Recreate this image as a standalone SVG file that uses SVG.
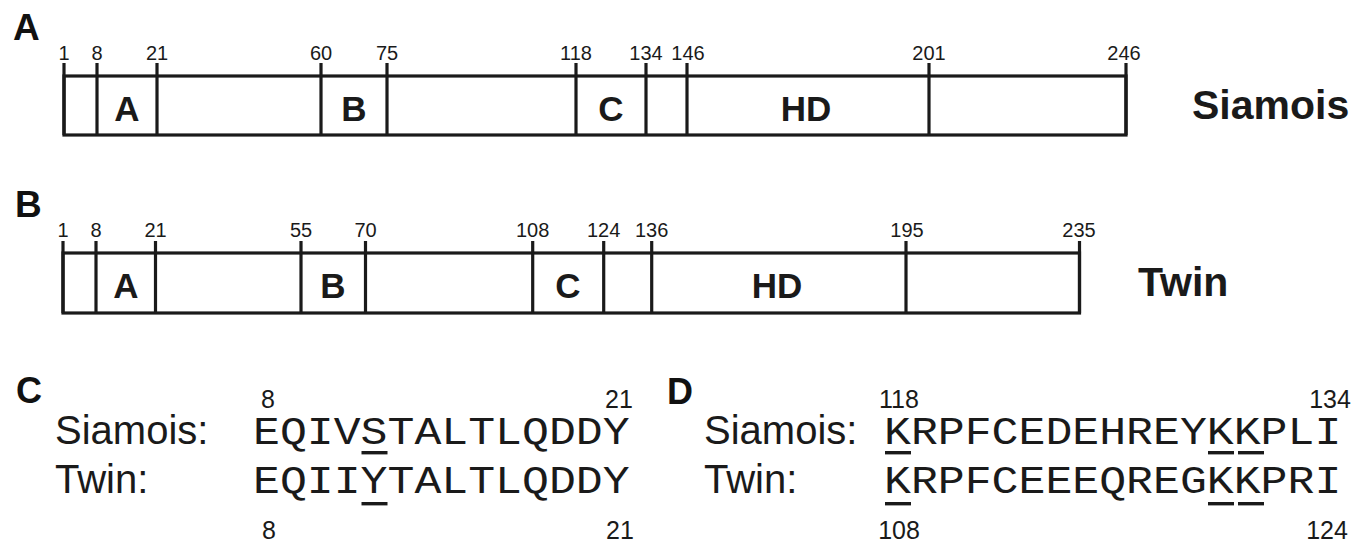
<svg xmlns="http://www.w3.org/2000/svg" width="1364" height="545" viewBox="0 0 1364 545">
<style>
.bg{fill:#ffffff}
.bar{fill:none;stroke:#1a1a1a;stroke-width:3.2}
.tick{stroke:#1a1a1a;stroke-width:3.2}
.num{font-family:"Liberation Sans",Arial,sans-serif;font-size:20px;fill:#1a1a1a;text-anchor:middle}
.dom{font-family:"Liberation Sans",Arial,sans-serif;font-size:35px;font-weight:bold;fill:#1a1a1a;text-anchor:middle}
.name{font-family:"Liberation Sans",Arial,sans-serif;font-size:41px;font-weight:bold;fill:#1a1a1a}
.panel{font-family:"Liberation Sans",Arial,sans-serif;font-size:37px;font-weight:bold;fill:#111}
.lab{font-family:"Liberation Sans",Arial,sans-serif;font-size:40px;fill:#1a1a1a}
.snum{font-family:"Liberation Sans",Arial,sans-serif;font-size:25px;fill:#1a1a1a;text-anchor:middle}
.seq{font-family:"Liberation Mono","Courier New",monospace;font-size:39px;fill:#1a1a1a}
.ul{fill:#1a1a1a}
</style>
<rect class="bg" x="0" y="0" width="1364" height="545"/>

<g id="panel-A">
  <text class="panel" x="13" y="40">A</text>
</g>
<g id="siamois-bar">
  <rect class="bar" x="64" y="76" width="1062" height="59"/>
  <line class="tick" x1="64" y1="63" x2="64" y2="135"/>
  <line class="tick" x1="97" y1="63" x2="97" y2="135"/>
  <line class="tick" x1="157" y1="63" x2="157" y2="135"/>
  <line class="tick" x1="321" y1="63" x2="321" y2="135"/>
  <line class="tick" x1="387" y1="63" x2="387" y2="135"/>
  <line class="tick" x1="576" y1="63" x2="576" y2="135"/>
  <line class="tick" x1="646" y1="63" x2="646" y2="135"/>
  <line class="tick" x1="687" y1="63" x2="687" y2="135"/>
  <line class="tick" x1="929" y1="63" x2="929" y2="135"/>
  <line class="tick" x1="1126" y1="63" x2="1126" y2="135"/>
  <text class="num" x="64" y="60">1</text>
  <text class="num" x="97" y="60">8</text>
  <text class="num" x="157" y="60">21</text>
  <text class="num" x="321" y="60">60</text>
  <text class="num" x="387" y="60">75</text>
  <text class="num" x="576" y="60">118</text>
  <text class="num" x="646" y="60">134</text>
  <text class="num" x="688" y="60">146</text>
  <text class="num" x="929" y="60">201</text>
  <text class="num" x="1124" y="60">246</text>
  <text class="dom" x="127" y="121">A</text>
  <text class="dom" x="354" y="121">B</text>
  <text class="dom" x="611" y="121">C</text>
  <text class="dom" x="806" y="121">HD</text>
  <text class="name" x="1192" y="119">Siamois</text>
</g>

<g id="panel-B">
  <text class="panel" x="15" y="217">B</text>
</g>
<g id="twin-bar">
  <rect class="bar" x="63" y="253" width="1016.5" height="60"/>
  <line class="tick" x1="63" y1="241" x2="63" y2="313"/>
  <line class="tick" x1="96" y1="241" x2="96" y2="313"/>
  <line class="tick" x1="155.5" y1="241" x2="155.5" y2="313"/>
  <line class="tick" x1="301" y1="241" x2="301" y2="313"/>
  <line class="tick" x1="365.5" y1="241" x2="365.5" y2="313"/>
  <line class="tick" x1="532.7" y1="241" x2="532.7" y2="313"/>
  <line class="tick" x1="603.7" y1="241" x2="603.7" y2="313"/>
  <line class="tick" x1="651.7" y1="241" x2="651.7" y2="313"/>
  <line class="tick" x1="906" y1="241" x2="906" y2="313"/>
  <line class="tick" x1="1079.5" y1="241" x2="1079.5" y2="313"/>
  <text class="num" x="63" y="237">1</text>
  <text class="num" x="96" y="237">8</text>
  <text class="num" x="155.5" y="237">21</text>
  <text class="num" x="301" y="237">55</text>
  <text class="num" x="365.5" y="237">70</text>
  <text class="num" x="532.7" y="237">108</text>
  <text class="num" x="603.7" y="237">124</text>
  <text class="num" x="651.7" y="237">136</text>
  <text class="num" x="907" y="237">195</text>
  <text class="num" x="1079" y="237">235</text>
  <text class="dom" x="126" y="298">A</text>
  <text class="dom" x="333" y="298">B</text>
  <text class="dom" x="568" y="298">C</text>
  <text class="dom" x="777" y="298">HD</text>
  <text class="name" x="1138" y="296">Twin</text>
</g>

<g id="panel-C">
  <text class="panel" x="16" y="403" style="font-size:36px">C</text>
  <text class="snum" x="268" y="408">8</text>
  <text class="snum" x="619" y="408">21</text>
  <text class="lab" x="55" y="444">Siamois:</text>
  <text class="seq" x="253" y="444" textLength="376.6" lengthAdjust="spacingAndGlyphs">EQIVSTALTLQDDY</text>
  <rect class="ul" x="361.5" y="451" width="26" height="3.4"/>
  <text class="lab" x="55" y="493">Twin:</text>
  <text class="seq" x="253" y="493" textLength="376.6" lengthAdjust="spacingAndGlyphs">EQIIYTALTLQDDY</text>
  <rect class="ul" x="361.5" y="502" width="26" height="3.4"/>
  <text class="snum" x="269" y="539">8</text>
  <text class="snum" x="620" y="539">21</text>
</g>

<g id="panel-D">
  <text class="panel" x="667" y="404" style="font-size:36px">D</text>
  <text class="snum" x="899" y="408">118</text>
  <text class="snum" x="1330" y="408">134</text>
  <text class="lab" x="704" y="444">Siamois:</text>
  <text class="seq" x="884" y="444" textLength="457.3" lengthAdjust="spacingAndGlyphs">KRPFCEDEHREYKKPLI</text>
  <rect class="ul" x="885" y="451" width="26" height="3.4"/>
  <rect class="ul" x="1208" y="451" width="26" height="3.4"/>
  <rect class="ul" x="1238" y="451" width="26" height="3.4"/>
  <text class="lab" x="704" y="493">Twin:</text>
  <text class="seq" x="884" y="493" textLength="457.3" lengthAdjust="spacingAndGlyphs">KRPFCEEEQREGKKPRI</text>
  <rect class="ul" x="885" y="502" width="26" height="3.4"/>
  <rect class="ul" x="1208" y="502" width="26" height="3.4"/>
  <rect class="ul" x="1238" y="502" width="26" height="3.4"/>
  <text class="snum" x="899" y="539">108</text>
  <text class="snum" x="1327" y="539">124</text>
</g>
</svg>
